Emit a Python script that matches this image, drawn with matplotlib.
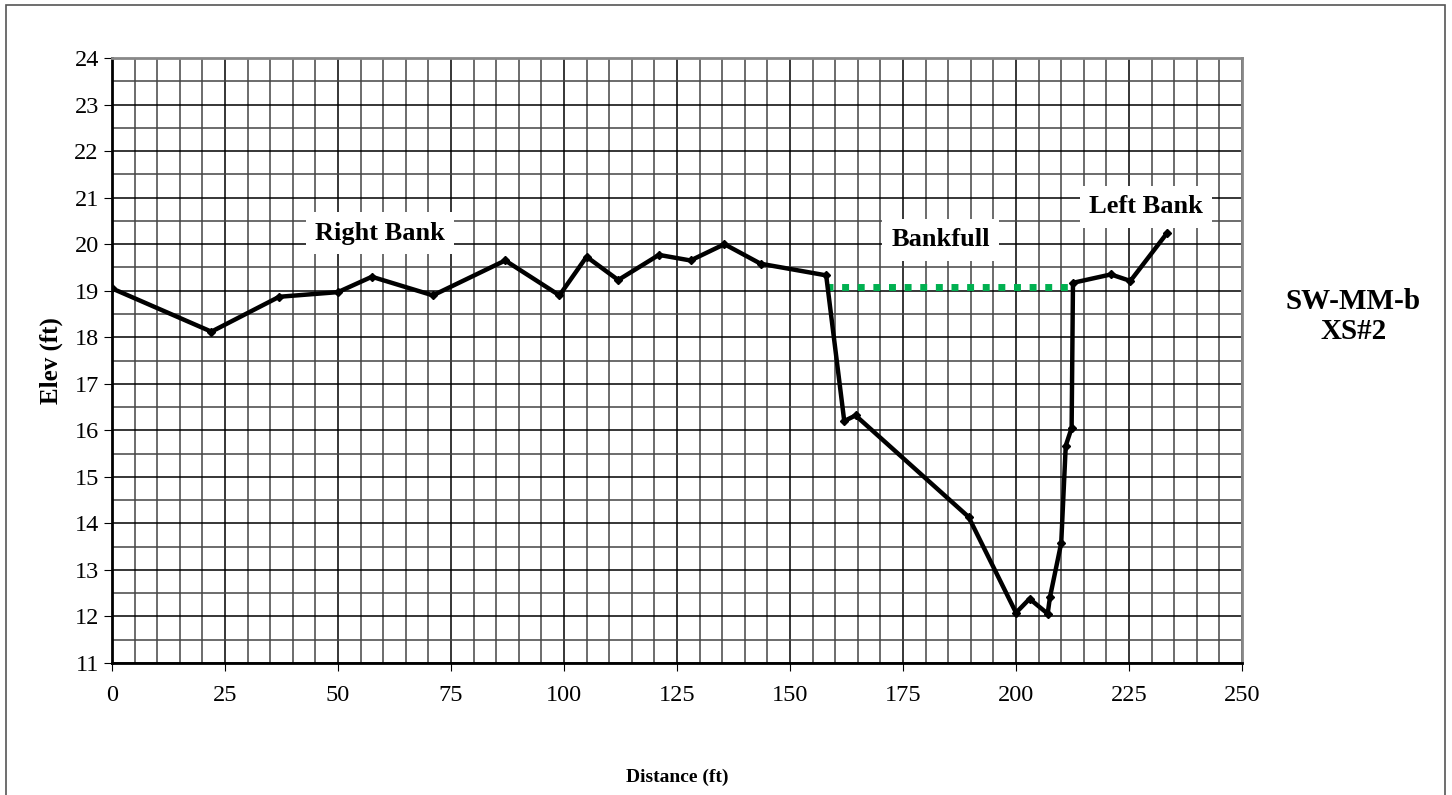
import matplotlib.pyplot as plt
from matplotlib.patches import Rectangle

# cross section survey points
dist = [0, 22, 37, 50, 57.5, 71, 87, 99, 105, 112, 121, 128, 135.5, 143.5,
        158, 162, 164.5, 189.5, 200, 203, 207, 207.5, 210, 211, 212.3, 212.6,
        221, 225.3, 233.5]
elev = [19.05, 18.12, 18.87, 18.97, 19.3, 18.9, 19.65, 18.9, 19.73, 19.23,
        19.77, 19.65, 20.0, 19.58, 19.33, 16.2, 16.32, 14.14, 12.08, 12.38,
        12.06, 12.41, 13.58, 15.67, 16.05, 19.17, 19.35, 19.21, 20.25]

# bankfull elevation line
bf_x = [158, 212.5]
bf_y = [19.07, 19.07]

labels = ["Right Bank", "Bankfull", "Left Bank"]
label_x = [59.3, 183.4, 228.8]
label_y = [20.24, 20.09, 20.8]

plt.rcParams['font.family'] = ['Liberation Serif', 'DejaVu Serif']

fig = plt.figure(figsize=(14.52, 7.95), dpi=100)
ax = fig.add_axes([0.0771, 0.166, 0.7783, 0.761])

# outer chart frame
fig.patches.append(Rectangle((0.004, -0.01), 0.991, 1.004, transform=fig.transFigure,
                             fill=False, edgecolor='#555555', lw=1.2))

ax.plot(bf_x, bf_y, color='#00B050', lw=5, linestyle=(0, (1, 1.25)),
        dash_capstyle='butt', zorder=3)
ax.plot(dist, elev, color='black', lw=3.2, marker='D', markersize=4, zorder=4)

ax.set_xlim(0, 250)
ax.set_ylim(11, 24)
ax.set_xticks(range(0, 251, 25))
ax.set_yticks(range(11, 25))
ax.set_xticks(range(0, 251, 5), minor=True)
ax.set_yticks([v + 0.5 for v in range(11, 24)], minor=True)
ax.grid(which='major', color='black', lw=1.1)
ax.grid(which='minor', color='#444444', lw=1.1)
ax.set_axisbelow(True)
ax.tick_params(which='major', direction='out', length=6, labelsize=17.5, color='black')
ax.tick_params(axis='x', pad=10)
ax.tick_params(which='minor', length=0)

ax.spines['left'].set_color('black')
ax.spines['bottom'].set_color('black')
ax.spines['top'].set_color('#888888')
ax.spines['right'].set_color('#888888')
for s in ax.spines.values():
    s.set_linewidth(2)

ax.set_xlabel('Distance (ft)', fontsize=14, fontweight='bold', labelpad=45)
ax.set_ylabel('Elev (ft)', fontsize=18, fontweight='bold', labelpad=8)

for t, x, y in zip(labels, label_x, label_y):
    ax.text(x, y, t, ha='center', va='center', fontsize=19, fontweight='bold',
            bbox=dict(facecolor='white', edgecolor='none',
                      boxstyle='square,pad=0.35'), zorder=5)

fig.text(0.932, 0.602, 'SW-MM-b\nXS#2', ha='center', va='center', fontsize=21,
         fontweight='bold', linespacing=1.15)

fig.savefig('out.png', dpi=100)
